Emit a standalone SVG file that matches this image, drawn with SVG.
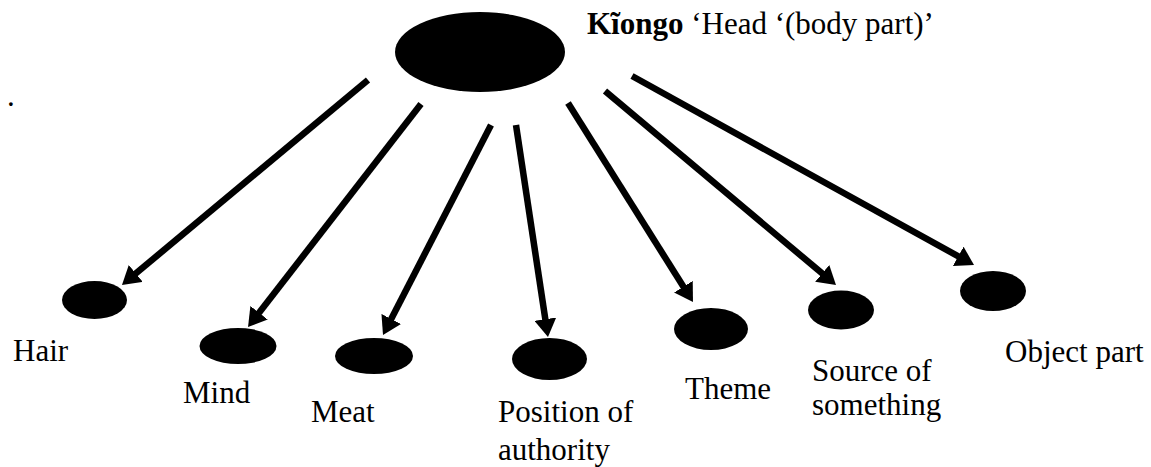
<svg xmlns="http://www.w3.org/2000/svg" width="1151" height="467" viewBox="0 0 1151 467">
  <style>
    .node { fill: #000; }
    .lbl { font-family: "Liberation Serif", "Times New Roman", serif; font-size: 31px; fill: #000; }
    .edge { stroke: #000; stroke-width: 6.5; fill: none; marker-end: url(#head); }
  </style>
  <defs>
    <marker id="head" viewBox="0 0 18 22" refX="6" refY="11" markerWidth="18" markerHeight="22" markerUnits="userSpaceOnUse" orient="auto">
      <path d="M0,0 L18,11 L0,22 z" fill="#000"/>
    </marker>
  </defs>
  <rect width="1151" height="467" fill="#fff"/>

  <text class="lbl" x="7" y="106">.</text>

  <!-- central concept -->
  <g id="head-node">
    <ellipse class="node" cx="480" cy="52" rx="85" ry="40"/>
    <text class="lbl" x="587" y="34"><tspan font-weight="bold">Kĩongo</tspan> ‘Head ‘(body part)’</text>
  </g>

  <!-- extended senses -->
  <g id="hair">
    <ellipse class="node" cx="94.5" cy="300" rx="32.5" ry="19"/>
    <text class="lbl" x="13" y="361">Hair</text>
  </g>
  <g id="mind">
    <ellipse class="node" cx="238" cy="346" rx="38.5" ry="18"/>
    <text class="lbl" x="183" y="403">Mind</text>
  </g>
  <g id="meat">
    <ellipse class="node" cx="374" cy="356" rx="39" ry="18"/>
    <text class="lbl" x="311" y="422">Meat</text>
  </g>
  <g id="position">
    <ellipse class="node" cx="549.5" cy="359" rx="37.5" ry="21"/>
    <text class="lbl" x="498" y="422">Position of</text>
    <text class="lbl" x="498" y="460">authority</text>
  </g>
  <g id="theme">
    <ellipse class="node" cx="711" cy="329" rx="37" ry="21"/>
    <text class="lbl" x="685" y="399">Theme</text>
  </g>
  <g id="source">
    <ellipse class="node" cx="841" cy="310" rx="33" ry="19.5"/>
    <text class="lbl" x="812" y="381">Source of</text>
    <text class="lbl" x="812" y="415">something</text>
  </g>
  <g id="object">
    <ellipse class="node" cx="993" cy="291" rx="33" ry="20"/>
    <text class="lbl" x="1005" y="362">Object part</text>
  </g>

  <!-- connectors: each line stops short of its tip; the marker supplies the head -->
  <g id="connectors">
    <line class="edge" x1="368" y1="80" x2="131.2" y2="277.3"/>
    <line class="edge" x1="421" y1="104" x2="255.4" y2="317.5"/>
    <line class="edge" x1="491" y1="125" x2="388.5" y2="324.3"/>
    <line class="edge" x1="516" y1="125" x2="546.2" y2="325.1"/>
    <line class="edge" x1="568" y1="103" x2="686.6" y2="291.8"/>
    <line class="edge" x1="605" y1="91" x2="826.8" y2="277.3"/>
    <line class="edge" x1="632" y1="76" x2="963.5" y2="259.2"/>
  </g>
</svg>
